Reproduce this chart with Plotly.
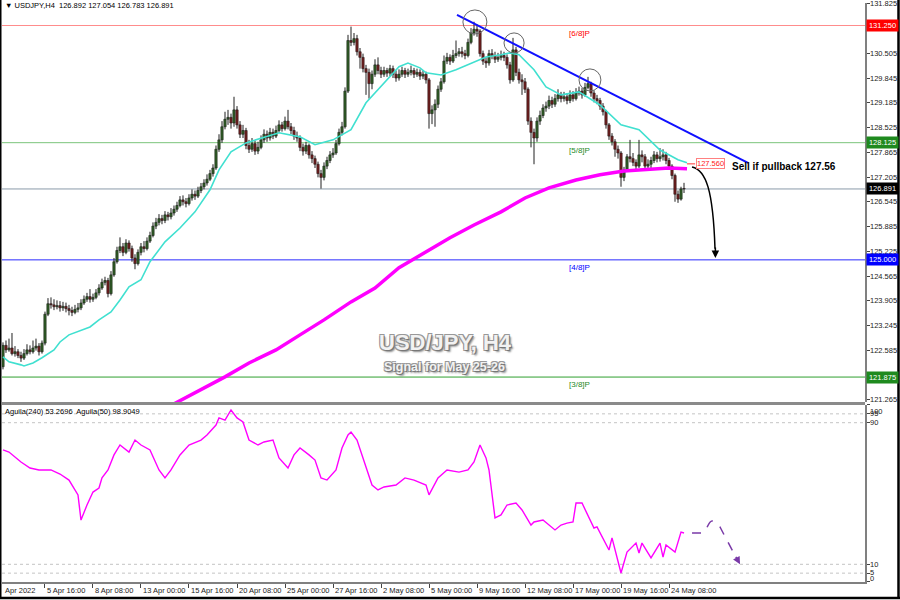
import plotly.graph_objects as go
import pandas as pd

# ---------------- data ----------------
first_open = 122.15
closes = [122.72,122.60,122.65,122.50,122.55,122.45,122.38,122.50,122.60,122.55,
 122.65,122.70,122.55,122.78,123.55,123.83,123.80,123.75,123.78,123.72,
 123.76,123.70,123.65,123.60,123.68,123.72,123.85,123.95,124.02,123.95,
 124.00,124.12,124.25,124.40,124.45,124.10,124.60,124.95,125.25,125.35,
 125.20,125.45,125.30,125.05,124.90,125.20,125.35,125.30,125.50,125.65,
 125.90,126.00,126.10,126.05,126.20,126.15,126.25,126.35,126.45,126.60,
 126.55,126.50,126.65,126.75,126.70,126.85,126.95,127.05,127.15,127.30,
 127.45,127.95,128.20,128.55,128.75,128.80,128.65,129.00,128.60,128.35,
 128.45,128.05,127.95,128.10,127.90,128.00,128.20,128.35,128.25,128.40,
 128.30,128.45,128.60,128.50,128.70,128.55,128.45,128.30,128.25,128.00,
 127.90,128.05,127.80,127.70,127.55,127.30,127.20,127.50,127.65,127.80,
 127.85,128.10,128.40,128.55,129.50,130.85,130.80,130.90,130.55,130.40,
 130.10,130.00,129.70,129.95,130.20,130.05,129.95,130.05,129.98,130.10,
 129.95,129.85,129.95,130.05,129.95,130.00,130.05,129.95,130.00,129.90,
 129.95,129.80,128.90,129.00,129.15,129.55,129.75,130.30,130.40,130.30,
 130.45,130.50,130.55,130.50,130.45,130.80,131.05,131.15,131.10,130.50,
 130.30,130.25,130.50,130.45,130.35,130.40,130.45,130.40,130.20,129.80,
 130.60,130.00,129.80,129.75,129.55,128.70,128.40,128.25,128.70,128.85,
 129.05,129.10,129.25,129.15,129.30,129.40,129.30,129.35,129.25,129.40,
 129.30,129.45,129.50,129.40,129.60,129.70,129.45,129.30,129.25,129.10,
 128.95,128.60,128.30,128.15,127.95,127.85,127.20,127.40,127.75,127.70,
 127.60,127.50,127.80,127.75,127.50,127.55,127.65,127.80,127.70,127.75,
 127.80,127.65,127.50,127.25,126.75,126.62,126.892,126.891]
highs = [122.80,122.85,122.90,123.05,122.70,122.62,122.55,122.62,122.75,122.72,
 122.85,122.90,122.78,122.85,123.62,123.98,124.00,123.95,123.92,123.90,
 123.88,123.86,123.80,123.75,123.80,123.85,123.95,124.05,124.12,124.22,
 124.10,124.22,124.35,124.50,124.55,124.52,124.70,125.05,125.35,125.60,
 125.45,125.55,125.52,125.38,125.15,125.28,125.45,125.50,125.60,125.75,
 126.00,126.12,126.22,126.20,126.30,126.28,126.38,126.45,126.55,126.70,
 126.72,126.65,126.75,126.88,126.85,126.95,127.05,127.15,127.28,127.40,
 127.55,128.05,128.35,128.70,128.95,129.00,128.90,129.35,129.10,128.70,
 128.60,128.52,128.20,128.25,128.18,128.15,128.32,128.48,128.45,128.52,
 128.50,128.58,128.72,128.68,128.82,129.00,128.65,128.55,128.42,128.32,
 128.10,128.15,128.10,127.90,127.78,127.62,127.40,127.60,127.75,127.90,
 127.98,128.20,128.50,128.68,129.60,131.00,131.22,131.05,131.00,130.65,
 130.50,130.20,130.10,130.05,130.35,130.40,130.15,130.15,130.12,130.20,
 130.18,130.05,130.08,130.15,130.12,130.10,130.18,130.12,130.10,130.08,
 130.05,130.02,129.85,129.12,129.28,129.65,129.85,130.45,130.52,130.48,
 130.60,130.85,130.65,130.68,130.60,130.90,131.18,131.35,131.28,131.15,
 130.58,130.40,130.60,130.62,130.55,130.52,130.58,130.55,130.48,130.28,
 130.92,130.68,130.10,129.95,129.85,129.60,128.80,128.50,128.80,128.98,
 129.15,129.22,129.38,129.35,129.42,129.55,129.48,129.48,129.45,129.52,
 129.50,129.58,129.62,129.58,129.72,129.88,129.75,129.52,129.40,129.32,
 129.18,129.00,128.65,128.38,128.22,128.05,127.90,127.48,127.82,128.20,
 127.85,127.68,128.20,127.92,127.82,127.68,127.75,127.90,127.88,127.98,
 127.95,127.88,127.72,127.55,127.30,126.85,126.95,127.054]
lows = [122.08,122.52,122.55,122.45,122.42,122.38,122.28,122.33,122.45,122.48,
 122.50,122.58,122.45,122.50,122.72,123.50,123.70,123.66,123.68,123.62,
 123.64,123.60,123.52,123.50,123.55,123.60,123.66,123.80,123.88,123.86,
 123.88,123.95,124.05,124.20,124.32,124.00,124.05,124.55,124.90,125.18,
 125.10,125.15,125.22,124.95,124.75,124.85,125.12,125.20,125.25,125.45,
 125.60,125.82,125.92,125.95,125.98,126.05,126.08,126.18,126.28,126.40,
 126.45,126.40,126.45,126.58,126.60,126.65,126.78,126.88,126.98,127.10,
 127.22,127.40,127.88,128.12,128.48,128.60,128.50,128.55,128.50,128.25,
 128.25,127.95,127.85,127.88,127.80,127.82,127.95,128.12,128.15,128.18,
 128.22,128.25,128.40,128.42,128.45,128.48,128.35,128.20,128.15,127.90,
 127.78,127.82,127.70,127.58,127.45,127.20,126.90,127.12,127.42,127.58,
 127.72,127.80,128.05,128.32,128.50,129.45,130.70,130.72,130.45,130.10,
 130.00,129.40,129.30,129.55,129.88,129.95,129.85,129.88,129.88,129.90,
 129.85,129.75,129.78,129.88,129.85,129.88,129.92,129.85,129.88,129.80,
 129.82,129.70,128.50,128.62,128.55,129.05,129.48,129.70,130.22,130.20,
 130.25,130.38,130.42,130.40,130.35,130.40,130.75,130.98,130.95,130.42,
 130.20,130.12,130.18,130.35,130.25,130.28,130.32,130.30,130.10,129.70,
 129.75,129.90,129.70,129.40,129.45,128.60,128.00,127.55,128.15,128.60,
 128.78,128.95,129.02,129.05,129.08,129.22,129.20,129.22,129.15,129.18,
 129.22,129.25,129.38,129.30,129.35,129.55,129.35,129.20,129.15,129.00,
 128.85,128.50,128.20,128.05,127.75,127.70,126.95,127.10,127.35,127.60,
 127.50,127.40,127.45,127.60,127.40,127.42,127.45,127.58,127.60,127.62,
 127.65,127.55,127.40,127.15,126.55,126.52,126.58,126.783]

# fast MA (cyan), sampled at bar indices
fast_idx = [0,2,6,7,10,13,17,19,22,26,29,32,36,39,42,46,49,54,59,64,69,72,76,81,86,92,99,104,110,116,
            121,127,132,135,139,141,146,151,156,161,166,169,172,177,181,186,192,199,206,212,219,225,228]
fast_val = [122.41,122.28,122.20,122.17,122.25,122.39,122.60,122.81,123.00,123.13,123.21,123.40,123.61,123.93,
            124.28,124.47,124.95,125.48,125.85,126.28,126.87,127.40,127.88,128.12,128.25,128.39,128.28,128.07,
            128.20,128.47,129.19,129.72,130.15,130.25,130.12,129.99,129.93,130.07,130.25,130.41,130.47,130.52,
            130.47,130.07,129.61,129.40,129.48,129.13,128.60,128.47,127.93,127.67,127.59]
# slow MA (magenta, thick)
slow_idx = [57,66,74,82,91,99,107,116,124,132,141,149,157,166,174,182,191,199,207,216,222,228]
slow_val = [121.16,121.53,121.88,122.25,122.60,123.00,123.40,123.88,124.25,124.79,125.21,125.59,125.93,
            126.28,126.65,126.92,127.13,127.27,127.37,127.43,127.45,127.43]
# Aguila oscillator (lower panel)
osc_idx = [0,2,6,9,12,16,19,22,25,26,28,30,32,33,35,37,39,42,44,46,49,52,54,56,59,62,66,68,71,72,
           74,76,78,80,82,85,87,90,92,95,97,99,102,104,106,108,111,113,115,116,118,121,123,125,127,131,
           134,137,141,142,145,148,152,155,157,159,161,162,164,166,168,171,173,176,177,180,182,184,186,
           188,190,191,193,195,197,198,202,203,206,208,211,212,213,216,219,220,221,224,226,227]
osc_val = [74.6,73.4,67.8,64.4,63.3,63.3,61.0,57.6,49.2,35.0,43.5,50.8,53.1,58.8,63.3,71.8,77.4,73.4,
           80.2,77.4,74.6,63.3,58.8,63.3,71.8,77.4,80.2,83.1,88.7,92.7,91.5,97.2,92.7,90.4,80.2,77.4,
           79.1,80.2,70.1,64.4,71.8,75.7,71.8,68.9,58.8,57.6,63.3,75.7,83.1,84.7,80.2,64.4,54.8,52.0,
           53.7,54.8,58.8,57.6,54.8,49.2,58.8,63.3,62.1,63.3,67.8,77.4,70.1,63.3,36.2,37.9,43.5,44.6,
           40.7,32.2,33.9,35.0,32.2,29.4,32.2,33.3,33.9,44.6,44.6,37.9,30.5,31.1,18.1,24.9,5.1,16.9,
           22.0,16.4,22.0,13.6,22.0,14.1,20.9,16.9,28.2,27.7]

levels = [131.250, 128.125, 125.000, 121.875]
level_names = ["[6/8]P", "[5/8]P", "[4/8]P", "[3/8]P"]
level_line_colors = ["#ff8c8c", "#7cc47c", "#2a2aff", "#2f9f2f"]
level_box_colors = ["#ff0000", "#1f8a1f", "#0000ff", "#1f8a1f"]
last_price = 126.891
signal_price = 127.560
price_ticks = [131.825, 131.165, 130.505, 129.845, 129.185, 128.525, 127.865, 127.205, 126.545,
               125.885, 125.225, 124.565, 123.905, 123.245, 122.585, 121.925, 121.265]
osc_ticks = [0, 5, 10, 90, 95, 100]
osc_dash_levels = [5, 10, 90, 95]
time_tick_labels = ["5 Apr 16:00", "8 Apr 08:00", "13 Apr 00:00", "15 Apr 16:00", "20 Apr 08:00",
                    "25 Apr 00:00", "27 Apr 16:00", "2 May 08:00", "5 May 00:00", "9 May 16:00",
                    "12 May 08:00", "17 May 00:00", "19 May 16:00", "24 May 08:00"]
header = "▼ USDJPY,H4  126.892 127.054 126.783 126.891"
osc_header = "Aguila(240) 53.2696  Aguila(50) 98.9049"

# ---------------- build ----------------
n = len(closes)
opens = [first_open] + closes[:-1]
idx = list(range(n))

# H4 bar times (weekdays only), to place the time labels
times = []
t = pd.Timestamp("2022-04-01 08:00")
while len(times) < n:
    if t.weekday() < 5:
        times.append(t)
    t += pd.Timedelta(hours=4)
fmt = [f"{x.day} {x:%b %H:%M}" for x in times]
time_tick_idx = [fmt.index(s) for s in time_tick_labels]

FONT = "Liberation Sans, Arial, sans-serif"
BULL = "#3f9e2a"
BEAR = "#c81a1a"
W, H = 863.0, 579.0
def px2x(p): return (p - 2) / W
def py2y(p): return (582 - p) / H

fig = go.Figure()

# wicks
wx, wy = [], []
for i in idx:
    wx += [i, i, None]
    wy += [lows[i], highs[i], None]
fig.add_trace(go.Scatter(x=wx, y=wy, mode="lines", line=dict(color="#202020", width=1),
                         hoverinfo="skip", xaxis="x", yaxis="y"))
# bodies
body_base = [min(o, c) for o, c in zip(opens, closes)]
body_h = [max(abs(c - o), 0.012) for o, c in zip(opens, closes)]
body_col = [BULL if c >= o else BEAR for o, c in zip(opens, closes)]
fig.add_trace(go.Bar(x=idx, y=body_h, base=body_base, width=0.78,
                     marker=dict(color=body_col, line=dict(color="#1a1a1a", width=0.6)),
                     xaxis="x", yaxis="y", hoverinfo="skip"))
# moving averages
fig.add_trace(go.Scatter(x=slow_idx, y=slow_val, mode="lines", line=dict(color="#ff00ff", width=3.5),
                         xaxis="x", yaxis="y", hoverinfo="skip"))
fig.add_trace(go.Scatter(x=fast_idx, y=fast_val, mode="lines", line=dict(color="#40e0d0", width=1.6),
                         xaxis="x", yaxis="y", hoverinfo="skip"))
# oscillator
fig.add_trace(go.Scatter(x=osc_idx, y=osc_val, mode="lines", line=dict(color="#ff00ff", width=1.4),
                         xaxis="x", yaxis="y2", hoverinfo="skip"))

shapes = []
annotations = []

# price scale labels (left-aligned just right of the axis)
for v in price_ticks:
    annotations.append(dict(x=1, y=v, xref="paper", yref="y", text=f"{v:.3f}", showarrow=False,
                            xanchor="left", yanchor="middle", xshift=3,
                            font=dict(family=FONT, size=7.5, color="#222")))
for v in osc_ticks:
    ya = "top" if v == 100 else "middle"
    ys = 3 if v == 0 else (1 if v == 5 else 0)
    annotations.append(dict(x=1, y=v, xref="paper", yref="y2", text=str(v), showarrow=False,
                            xanchor="left", yanchor=ya, xshift=3, yshift=ys,
                            font=dict(family=FONT, size=7.5, color="#222")))

# pivot levels
for lv, nm, lc, bc in zip(levels, level_names, level_line_colors, level_box_colors):
    shapes.append(dict(type="line", xref="paper", yref="y", x0=0, x1=1, y0=lv, y1=lv,
                       line=dict(color=lc, width=1), layer="below"))
    annotations.append(dict(x=188, y=lv, xref="x", yref="y", text=nm, showarrow=False,
                            xanchor="left", yanchor="top", yshift=-1,
                            font=dict(family=FONT, size=8, color=bc)))
    annotations.append(dict(x=1, y=lv, xref="paper", yref="y", text=f"{lv:.3f}", showarrow=False,
                            xanchor="left", xshift=1, bgcolor=bc, borderpad=1, width=29,
                            font=dict(family=FONT, size=7.5, color="white")))
# last price line
shapes.append(dict(type="line", xref="paper", yref="y", x0=0, x1=1, y0=last_price, y1=last_price,
                   line=dict(color="#8a9aaa", width=1), layer="below"))
annotations.append(dict(x=1, y=last_price, xref="paper", yref="y", text=f"{last_price:.3f}",
                        showarrow=False, xanchor="left", xshift=1, bgcolor="black", borderpad=1,
                        width=29, font=dict(family=FONT, size=7.5, color="white")))

# trend line
shapes.append(dict(type="line", xref="x", yref="y", x0=151.33, y0=131.532, x1=248.33, y1=127.585,
                   line=dict(color="#1010ff", width=2)))
# circles on the touches
for cx0, cx1, cy0, cy1 in [(153.3, 161.3, 131.025, 131.665), (167.0, 173.7, 130.518, 131.052),
                           (192.0, 199.3, 129.505, 130.092)]:
    shapes.append(dict(type="circle", xref="x", yref="y", x0=cx0, x1=cx1, y0=cy0, y1=cy1,
                       line=dict(color="#666666", width=1)))

# signal price tag
shapes.append(dict(type="line", xref="x", yref="y", x0=228, x1=230.7, y0=signal_price, y1=signal_price,
                   line=dict(color="#ff3030", width=1)))
annotations.append(dict(x=235.7, y=signal_price, xref="x", yref="y", text=f"{signal_price:.3f}",
                        showarrow=False, bgcolor="white", bordercolor="#ff8080", borderwidth=1,
                        borderpad=0, font=dict(family=FONT, size=7.5, color="#ff2020")))
annotations.append(dict(x=260.2, y=127.478, xref="x", yref="y", text="<b>Sell if pullback 127.56</b>",
                        showarrow=False, font=dict(family=FONT, size=10, color="black")))

# curved black arrow
shapes.append(dict(type="path", xref="x", yref="y",
                   path="M 229.67,127.478 C 234.33,127.398 236.67,126.865 237.33,125.30",
                   line=dict(color="black", width=1.5)))
annotations.append(dict(x=237.45, y=125.05, xref="x", yref="y", ax=0, ay=-12, axref="pixel",
                        text="", showarrow=True, arrowhead=2, arrowsize=1, arrowwidth=1.5,
                        arrowcolor="black"))

# dashed purple arrow in the oscillator
shapes.append(dict(type="path", xref="x", yref="y2",
                   path="M 229.67,27.68 L 233,27.68 C 234.5,27.68 235,34.46 236.33,34.46 "
                        "C 237.8,34.46 238.5,31.5 239,31.07 L 244.6,13.0",
                   line=dict(color="#7a3aa8", width=1.5, dash="dash")))
annotations.append(dict(x=245.67, y=10.0, xref="x", yref="y2", ax=-5, ay=-9,
                        text="", showarrow=True, arrowhead=2, arrowsize=1, arrowwidth=1.5,
                        arrowcolor="#7a3aa8"))

# oscillator dashed levels
for lv in osc_dash_levels:
    shapes.append(dict(type="line", xref="paper", yref="y2", x0=0, x1=1, y0=lv, y1=lv,
                       line=dict(color="#c4c4c4", width=1, dash="3px,3px"), layer="below"))

# panel separator
shapes.append(dict(type="rect", xref="paper", yref="paper", x0=0, x1=1, y0=0.3057, y1=0.3109,
                   fillcolor="#8a8a8a", line=dict(width=0)))
# outer frame (left, right, bottom)
shapes.append(dict(type="line", xref="paper", yref="paper", x0=px2x(0.5), x1=px2x(0.5),
                   y0=py2y(0), y1=py2y(599), line=dict(color="black", width=2)))
shapes.append(dict(type="line", xref="paper", yref="paper", x0=px2x(898.5), x1=px2x(898.5),
                   y0=py2y(0), y1=py2y(599), line=dict(color="black", width=2.5)))
shapes.append(dict(type="line", xref="paper", yref="paper", x0=px2x(0), x1=px2x(900),
                   y0=py2y(598), y1=py2y(598), line=dict(color="black", width=2.5)))

# time labels
annotations.append(dict(x=0, y=py2y(584), xref="paper", yref="paper", text="Apr 2022",
                        showarrow=False, xanchor="left", yanchor="top", xshift=1,
                        font=dict(family=FONT, size=7.5, color="#222")))
for ti, tl in zip(time_tick_idx, time_tick_labels):
    annotations.append(dict(x=ti, y=py2y(584), xref="x", yref="paper", text=tl, showarrow=False,
                            xanchor="left", yanchor="top", xshift=0,
                            font=dict(family=FONT, size=7.5, color="#222")))

# headers
annotations.append(dict(x=0, y=py2y(5), xref="paper", yref="paper", text=header, showarrow=False,
                        xanchor="left", yanchor="middle", xshift=1,
                        font=dict(family=FONT, size=7.5, color="black")))
annotations.append(dict(x=0, y=py2y(411), xref="paper", yref="paper", text=osc_header,
                        showarrow=False, xanchor="left", yanchor="middle", xshift=1,
                        font=dict(family=FONT, size=7.5, color="black")))

# watermark titles
shadow = "1px 1px 0 #777, -1px -1px 0 #999, 1px -1px 0 #999, -1px 1px 0 #999, 2px 2px 2px #888"
annotations.append(dict(x=px2x(445), y=py2y(342), xref="paper", yref="paper",
                        text="<b>USD/JPY, H4</b>", showarrow=False,
                        font=dict(family=FONT, size=22, color="#f2f2f2", shadow=shadow)))
annotations.append(dict(x=px2x(444), y=py2y(367), xref="paper", yref="paper",
                        text="<b>Signal for May 25-26</b>", showarrow=False,
                        font=dict(family=FONT, size=12.5, color="#f2f2f2", shadow=shadow)))

fig.update_layout(
    width=900, height=600,
    margin=dict(l=2, r=35, t=3, b=18),
    paper_bgcolor="white", plot_bgcolor="white",
    showlegend=False, bargap=0, hovermode=False,
    shapes=shapes, annotations=annotations,
    xaxis=dict(domain=[0, 1], range=[-0.33, 287.33], anchor="y2", showticklabels=False,
               tickmode="array", tickvals=time_tick_idx, ticks="outside", ticklen=4,
               tickcolor="#444", showline=True, linecolor="#808080", linewidth=1.5,
               showgrid=False, zeroline=False, fixedrange=True),
    yaxis=dict(domain=[0.3109, 1], range=[121.21, 131.85], side="right", anchor="x",
               tickmode="array", tickvals=price_ticks, showticklabels=False,
               ticks="outside", ticklen=3, tickcolor="#444", showline=True, linecolor="#808080",
               linewidth=1.5, showgrid=False, zeroline=False),
    yaxis2=dict(domain=[0, 0.3057], range=[0, 100], side="right", anchor="x",
                tickmode="array", tickvals=osc_ticks, showticklabels=False,
                ticks="outside", ticklen=3, tickcolor="#444", showline=True, linecolor="#808080",
                linewidth=1.5, showgrid=False, zeroline=False),
)

fig.write_html("out.html", config={"displayModeBar": False, "staticPlot": True},
               post_script="document.body.style.margin='0';document.body.style.padding='0';"
                           "document.body.style.overflow='hidden';")
